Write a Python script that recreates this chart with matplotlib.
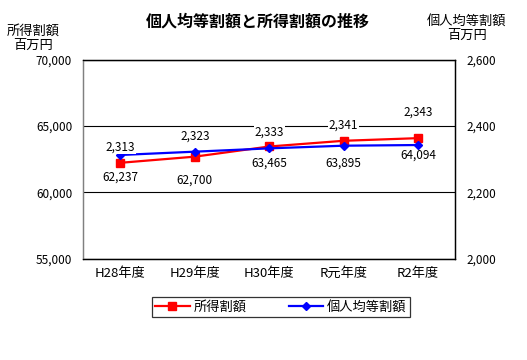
import matplotlib.pyplot as plt

plt.rcParams['font.family'] = ['Noto Sans CJK JP', 'DejaVu Sans']

# Data.
years = ["H28年度", "H29年度", "H30年度", "R元年度", "R2年度"]
income_levy = [62237, 62700, 63465, 63895, 64094]      # 所得割額 (left axis)
per_capita_levy = [2313, 2323, 2333, 2341, 2343]       # 個人均等割額 (right axis)

# Label offsets in points (placement only).
income_offsets = [-10, -17, -12, -16, -12]
capita_offsets = [6, 11, 12, 15, 24]

NUM_SIZE = 8.5
CJK_SIZE = 9.5


def plot_tax_trend():
    fig = plt.figure(figsize=(5.27, 3.6), dpi=100)
    ax = fig.add_axes([0.158, 0.281, 0.706, 0.553])
    ax2 = ax.twinx()

    x = range(len(years))

    # Left axis: 所得割額
    ax.plot(x, income_levy, color="#ff0000", marker="s", markersize=5.5,
            linewidth=1.6, label="所得割額", zorder=3)
    ax.set_ylim(55000, 70000)
    ax.set_yticks([55000, 60000, 65000, 70000])
    ax.set_yticklabels([f"{v:,}" for v in [55000, 60000, 65000, 70000]])
    ax.yaxis.grid(True, color="black", linewidth=0.8)
    ax.set_axisbelow(True)

    # Right axis: 個人均等割額
    ax2.plot(x, per_capita_levy, color="#0000ff", marker="D", markersize=4.5,
             linewidth=1.6, label="個人均等割額", zorder=3)
    ax2.set_ylim(2000, 2600)
    ax2.set_yticks([2000, 2200, 2400, 2600])
    ax2.set_yticklabels([f"{v:,}" for v in [2000, 2200, 2400, 2600]])

    ax.set_xlim(-0.5, len(years) - 0.5)
    ax.set_xticks(list(x))
    ax.set_xticklabels(years)

    for a in (ax, ax2):
        a.tick_params(length=0, labelsize=NUM_SIZE, pad=8)
        for s in a.spines.values():
            s.set_color("black")
            s.set_linewidth(0.9)
    ax.spines['left'].set_color("#808080")
    ax2.spines['left'].set_color("#808080")
    ax.tick_params(axis="x", labelsize=CJK_SIZE, pad=6)

    # Data labels
    for i, v in enumerate(income_levy):
        ax.annotate(f"{v:,}", (i, v), xytext=(0, income_offsets[i]),
                    textcoords="offset points", ha="center", va="center",
                    fontsize=NUM_SIZE, zorder=5)
    for i, v in enumerate(per_capita_levy):
        ax2.annotate(f"{v:,}", (i, v), xytext=(0, capita_offsets[i]),
                     textcoords="offset points", ha="center", va="center",
                     fontsize=NUM_SIZE, zorder=5,
                     bbox=dict(facecolor="white", edgecolor="none", pad=0.5))

    # Titles and axis captions
    fig.text(0.49, 0.94, "個人均等割額と所得割額の推移", ha="center",
             va="center", fontsize=11.5, fontweight="bold")
    fig.text(0.063, 0.894, "所得割額\n百万円", ha="center", va="center",
             fontsize=CJK_SIZE, linespacing=1.15)
    fig.text(0.886, 0.922, "個人均等割額\n百万円", ha="center", va="center",
             fontsize=CJK_SIZE, linespacing=1.1)

    handles = ax.get_lines()[:1] + ax2.get_lines()[:1]
    leg = fig.legend(handles, [h.get_label() for h in handles], ncol=2,
                     loc="center", bbox_to_anchor=(0.533, 0.147),
                     fontsize=CJK_SIZE, frameon=True, fancybox=False,
                     edgecolor="black", handlelength=2.6, handletextpad=0.3,
                     columnspacing=3.2, borderpad=0.25, borderaxespad=0)
    leg.get_frame().set_linewidth(0.9)

    fig.savefig("out.png", dpi=100)
    plt.close(fig)


plot_tax_trend()
